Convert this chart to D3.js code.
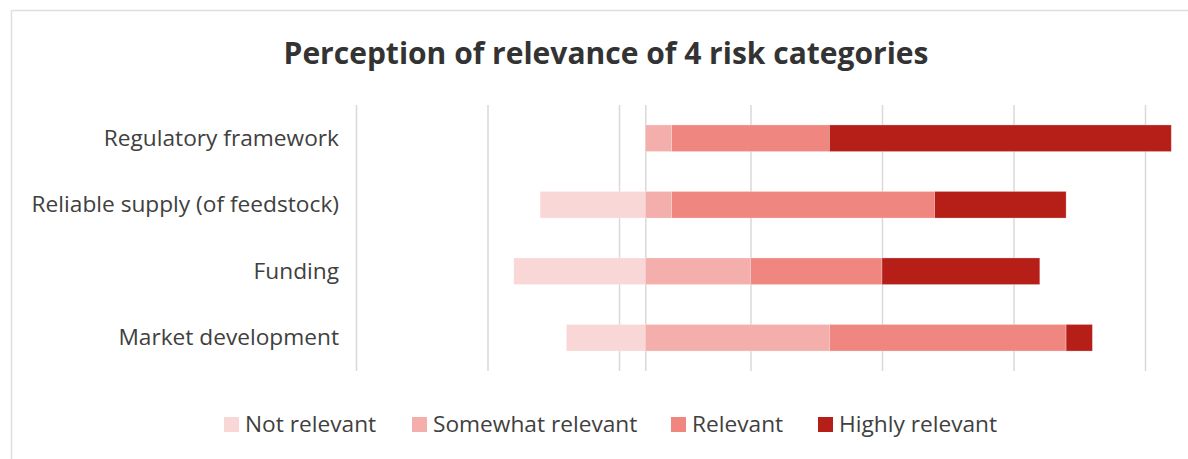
<!DOCTYPE html>
<html>
<head>
<meta charset="utf-8">
<script src="https://cdn.jsdelivr.net/npm/d3@7"></script>
<style>
  html, body { margin: 0; padding: 0; background: #fff; }
  svg { display: block; }
</style>
</head>
<body>
<svg id="chart" width="1188" height="459"></svg>
<script>
// ---- data ----
const categories = ["Regulatory framework", "Reliable supply (of feedstock)", "Funding", "Market development"];
const notRelevant = [0, 4, 5, 3];
const somewhatRelevant = [1, 1, 4, 7];
const relevant = [6, 10, 5, 9];
const highlyRelevant = [13, 5, 6, 1];
const seriesNames = ["Not relevant", "Somewhat relevant", "Relevant", "Highly relevant"];
const gridTicks = [-11, -6, -1, 4, 9, 14, 19];
const titleText = "Perception of relevance of 4 risk categories";

// ---- styles ----
const colors = ["#f9d7d6", "#f4aeab", "#f08680", "#b51f18"];
const font = "'Open Sans', 'Noto Sans', sans-serif";
const textColor = "#404040";
const gridColor = "#d9d9d9";

const svg = d3.select("#chart");

// chart border (top & left visible)
svg.append("line").attr("x1", 11.5).attr("x2", 1188).attr("y1", 10.5).attr("y2", 10.5)
  .attr("stroke", "#dedede").attr("stroke-width", 1.5);
svg.append("line").attr("x1", 11.5).attr("x2", 11.5).attr("y1", 10.5).attr("y2", 459)
  .attr("stroke", "#dedede").attr("stroke-width", 1.5);

// title
svg.append("text")
  .attr("x", 606).attr("y", 64)
  .attr("text-anchor", "middle")
  .attr("font-family", font).attr("font-weight", 700).attr("font-size", 30)
  .attr("fill", "#333333")
  .text(titleText);

// scales
const x = d3.scaleLinear().domain([-11, 19]).range([356, 1145]);
const y = d3.scaleBand().domain(categories).range([105, 371]).paddingInner(0.6).paddingOuter(0.3);

// gridlines via axis
const gridAxis = d3.axisBottom(x).tickValues(gridTicks.concat([0])).tickSize(-(371 - 105)).tickFormat("");
const g = svg.append("g").attr("transform", "translate(0,371)").call(gridAxis);
g.select(".domain").remove();
g.selectAll(".tick line").attr("stroke", gridColor).attr("stroke-width", 1.5);

// stacked data
const rows = categories.map((c, i) => {
  const segs = [];
  segs.push({ s: 0, x0: -notRelevant[i], x1: 0 });
  let acc = 0;
  [somewhatRelevant[i], relevant[i], highlyRelevant[i]].forEach((v, k) => {
    segs.push({ s: k + 1, x0: acc, x1: acc + v });
    acc += v;
  });
  return { cat: c, segs: segs.filter(d => d.x1 - d.x0 > 0) };
});

const rowG = svg.append("g").selectAll("g").data(rows).join("g")
  .attr("transform", d => `translate(0,${y(d.cat)})`);
rowG.selectAll("rect").data(d => d.segs).join("rect")
  .attr("x", d => x(d.x0))
  .attr("width", d => x(d.x1) - x(d.x0))
  .attr("y", 0)
  .attr("height", y.bandwidth())
  .attr("fill", d => colors[d.s])
  .attr("stroke", "rgba(255,255,255,0.35)")
  .attr("stroke-width", 0.75);

// category labels
const yAxis = d3.axisLeft(y).tickSize(0).tickPadding(0);
const ya = svg.append("g").attr("transform", "translate(339,0)").call(yAxis);
ya.select(".domain").remove();
ya.selectAll("text")
  .attr("font-family", font).attr("font-size", 22.7).attr("fill", textColor);

// legend
const legendX = [224, 412, 671, 818];
const lg = svg.append("g").selectAll("g").data(seriesNames).join("g")
  .attr("transform", (d, i) => `translate(${legendX[i]},417)`);
lg.append("rect").attr("width", 15).attr("height", 15).attr("fill", (d, i) => colors[i]);
lg.append("text").attr("x", 21).attr("y", 15)
  .attr("font-family", font).attr("font-size", 22.7).attr("fill", textColor)
  .text(d => d);
</script>
</body>
</html>
